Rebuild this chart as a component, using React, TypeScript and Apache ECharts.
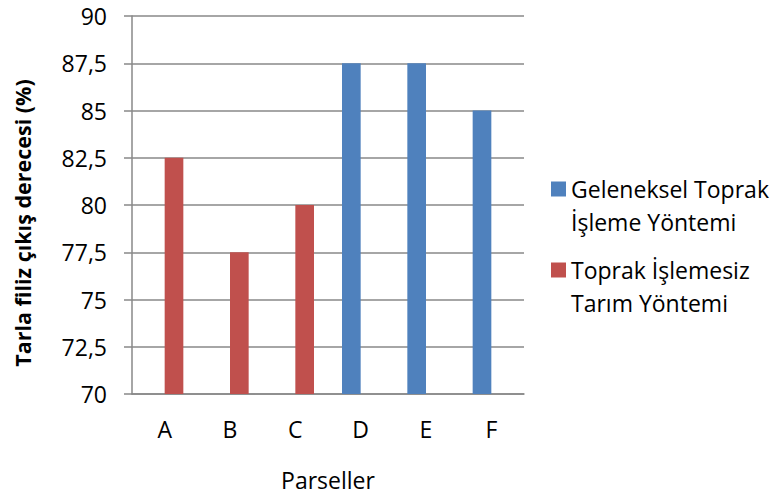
import React, { useEffect, useRef } from "react";
import * as echarts from "echarts";

const categories = ["A", "B", "C", "D", "E", "F"];
const gelenekselValues = [null, null, null, 87.5, 87.5, 85];
const topraksizValues = [82.5, 77.5, 80, null, null, null];
const seriesNames = ["Geleneksel Toprak İşleme Yöntemi", "Toprak İşlemesiz Tarım Yöntemi"];
const legendLines: Record<string, string> = {
  "Geleneksel Toprak İşleme Yöntemi": "Geleneksel Toprak\nİşleme Yöntemi",
  "Toprak İşlemesiz Tarım Yöntemi": "Toprak İşlemesiz\nTarım Yöntemi",
};
const yTitle = "Tarla filiz çıkış derecesi (%)";
const xTitle = "Parseller";

const FONT = "Open Sans";
const GRAY = "#888888";

export default function App() {
  const ref = useRef<HTMLDivElement>(null);
  useEffect(() => {
    if (!ref.current) return;
    const chart = echarts.init(ref.current, null, { renderer: "svg" });
    const legendCommon = {
      orient: "vertical" as const,
      left: 551,
      itemWidth: 15,
      itemHeight: 15,
      itemGap: 5,
      icon: "rect",
      padding: 0,
      textStyle: { fontFamily: FONT, fontSize: 23, color: "#000", lineHeight: 33 },
      formatter: (n: string) => "\n" + legendLines[n],
    };
    chart.setOption({
      animation: false,
      backgroundColor: "#fff",
      grid: { left: 132, right: 252, top: 16, bottom: 101 },
      legend: [
        { ...legendCommon, top: 139.5, data: [seriesNames[0]] },
        { ...legendCommon, top: 220.5, data: [seriesNames[1]] },
      ],
      xAxis: {
        type: "category",
        data: categories,
        name: xTitle,
        nameLocation: "middle",
        nameGap: 74,
        nameTextStyle: { fontFamily: FONT, fontSize: 23, color: "#000" },
        axisLine: { lineStyle: { color: GRAY, width: 1.5 } },
        axisTick: { show: false },
        axisLabel: { fontFamily: FONT, fontSize: 23, color: "#000", margin: 23 },
      },
      yAxis: {
        type: "value",
        min: 70,
        max: 90,
        interval: 2.5,
        axisLine: { show: true, lineStyle: { color: GRAY, width: 1.5 } },
        axisTick: { show: true, length: 8, lineStyle: { color: GRAY, width: 1.5 } },
        splitLine: { lineStyle: { color: GRAY, width: 1.5 } },
        axisLabel: {
          fontFamily: FONT,
          fontSize: 23,
          lineHeight: 24,
          color: "#000",
          margin: 25,
          formatter: (v: number) => String(v).replace(".", ","),
        },
      },
      graphic: [
        {
          type: "text",
          x: 22,
          y: 223,
          rotation: Math.PI / 2,
          style: {
            text: yTitle,
            fontFamily: FONT,
            fontSize: 21.5,
            fontWeight: "bold",
            fill: "#000",
            align: "center",
            verticalAlign: "middle",
          },
        },
      ],
      series: [
        {
          name: seriesNames[0],
          type: "bar",
          data: gelenekselValues,
          barGap: "0%",
          barCategoryGap: "42.86%",
          itemStyle: { color: "#4F81BD" },
        },
        {
          name: seriesNames[1],
          type: "bar",
          data: topraksizValues,
          barGap: "0%",
          barCategoryGap: "42.86%",
          itemStyle: { color: "#C0504D" },
        },
      ],
    });
    return () => chart.dispose();
  }, []);
  return <div ref={ref} style={{ width: 776, height: 496, position: "absolute", left: 0, top: 0 }} />;
}
